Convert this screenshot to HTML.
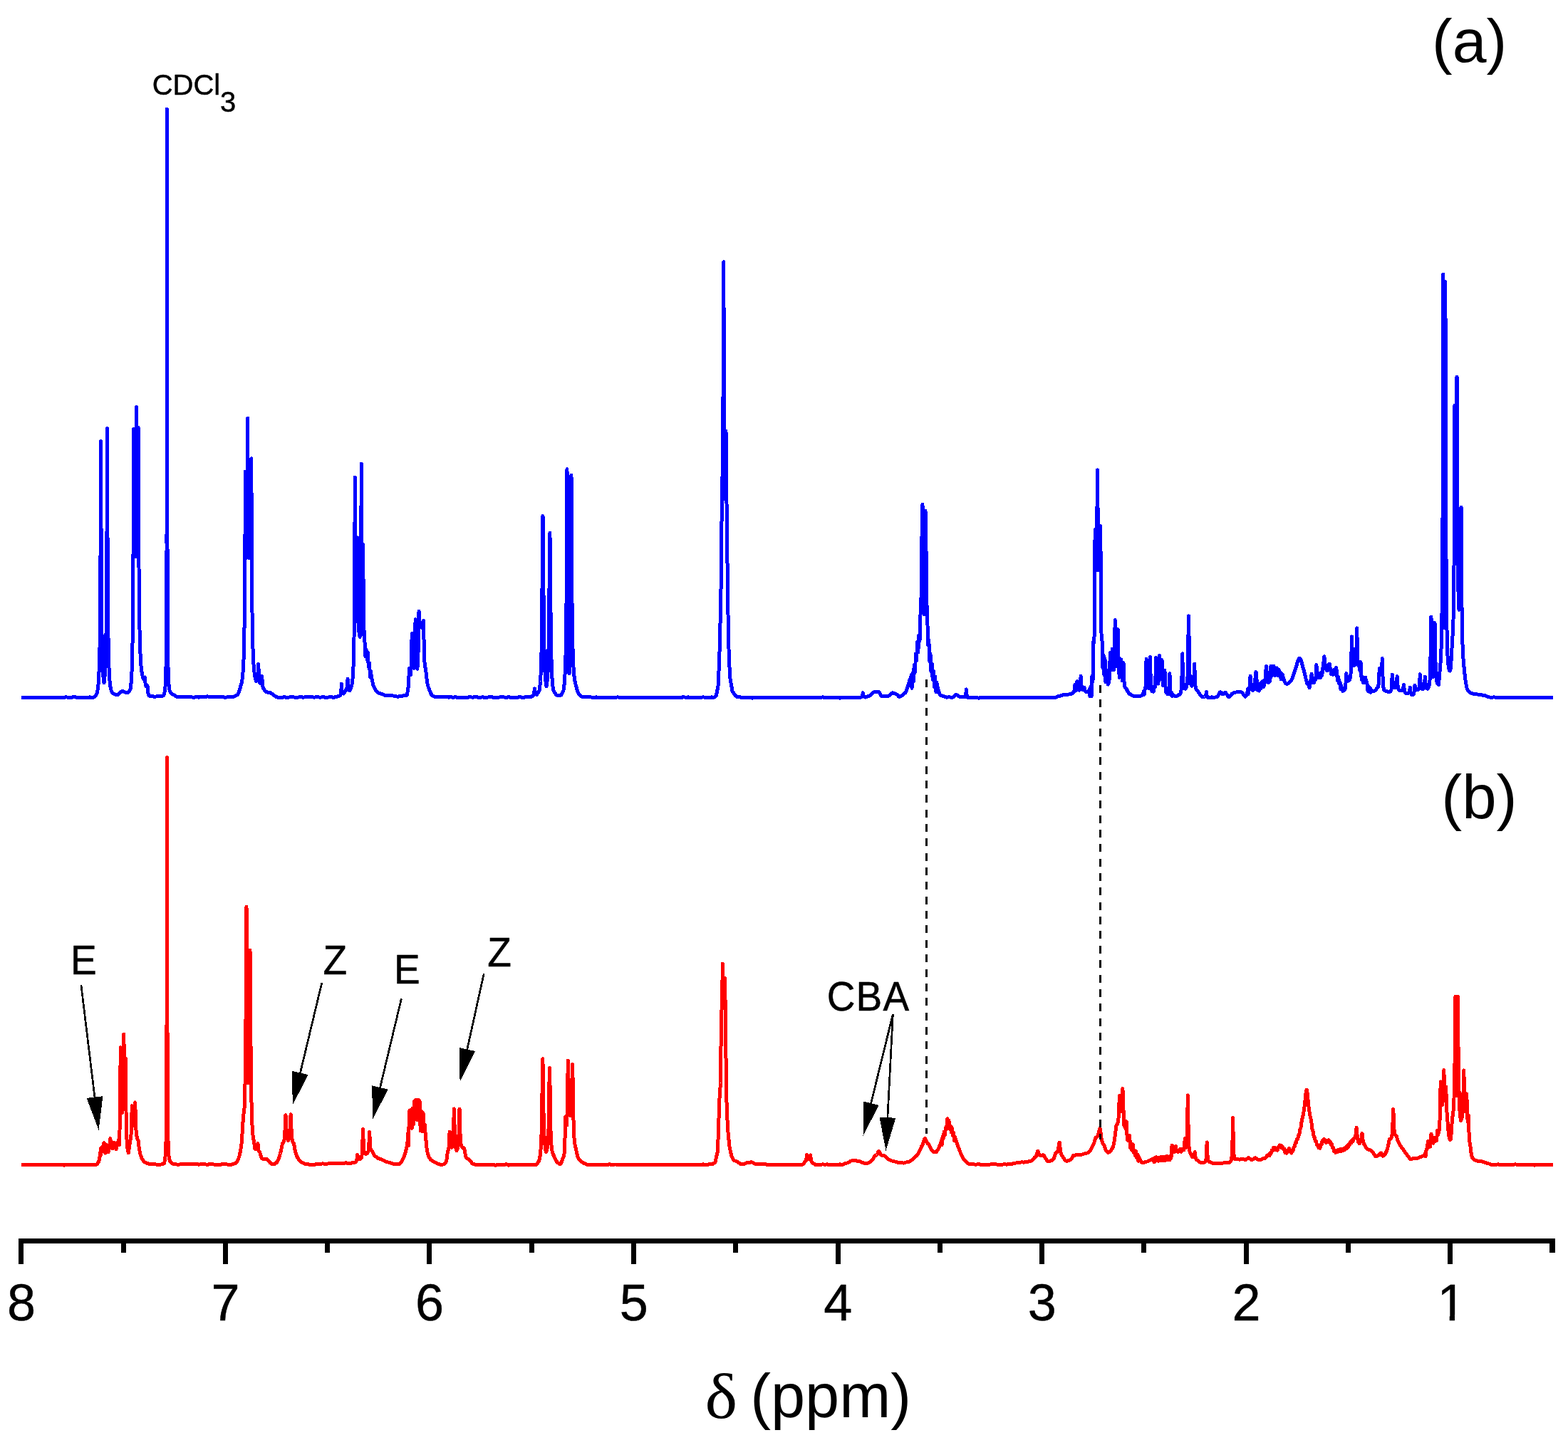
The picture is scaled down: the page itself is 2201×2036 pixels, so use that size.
<!DOCTYPE html>
<html lang="en"><head><meta charset="utf-8"><title>1H NMR spectra</title>
<style>html,body{margin:0;padding:0;background:#fff}body{width:2201px;height:2036px;overflow:hidden}svg{display:block}text{font-family:"Liberation Sans",Arial,sans-serif;fill:#000}.ser{font-family:"Liberation Serif","DejaVu Serif",serif}</style></head><body>
<svg width="2201" height="2036" viewBox="0 0 2201 2036">
<rect width="2201" height="2036" fill="#fff"/>
<defs><polyline id="specA" points="30,979.5 86,979.2 86.2,979.4 87,979.5 90,979.4 93,978.7 96,979.5 99,979.3 105,978.6 108,979.6 111,979.1 117,979.5 120,979.3 123,979.5 126,978.9 129,979.4 132,978.9 133.2,978.1 134.2,977.1 135,975.9 136,973.3 136.8,970.4 137.5,965.9 138,961.5 138.5,955.1 139.2,939.6 140,909.3 140.5,870.6 140.8,839.2 141.6,619.7 142.2,798.5 142.5,841.1 143,889.8 143.5,916.5 144.2,938.7 145,950.4 145.5,955.3 146,958.9 146.8,953.2 147.2,947.5 148,933.8 148.8,907.3 149.2,874.1 149.8,810.5 150.5,601.5 151.2,813.2 151.8,877.8 152.2,911.4 152.8,931.4 153.2,944.1 154,955.8 154.5,960.7 155,964.3 155.5,967 156.2,969.8 157,971.7 158,973.4 160.8,974.9 162,975.3 162.8,975.4 165,975.4 165.8,975.2 167,974.3 170,971.5 170.8,971 171.8,970.6 172.8,970.7 173.8,971 177,972.8 177.8,972.9 178.5,972.8 179.5,972.2 180.8,971 181.8,969.8 183,968 183.8,962.5 184.2,957 185,943.9 185.8,919 186.2,888.7 186.8,832.7 187,782.6 187.6,602.7 188.2,710.7 188.5,736.5 189,765.9 189.5,782 190,763 190.5,728.4 190.8,698.2 191.4,571.4 192,701.9 192.2,738.2 192.8,781.5 193.2,740.8 194.1,600.3 194.2,616.5 195,796.9 195.5,852.4 196,884.1 196.5,904.5 197.2,923.5 197.8,931.7 198.2,937.6 198.8,942 199.5,946.8 200.2,950.1 201,952.5 201.5,953.7 202,953.4 202.5,952.8 203.3,951 203.5,952.3 204,958.9 204.2,961 204.8,963.2 205,963.7 205.2,963.7 206,963.4 207,962.6 208,973.3 208.5,975.4 208.8,976 209.2,976.7 209.8,977.1 210.2,977.3 211.2,977.3 213,977.1 216,978.1 219,978 225,977.5 226,977.6 227.2,977.6 228,977.4 229,977 230,975.4 230.8,973.3 231.5,969.2 232,964.4 232.5,955.9 232.8,949.1 233.2,923.9 233.8,855.6 234,772.6 234.2,578.8 234.5,153 234.8,577.4 235,770.7 235.2,853.4 235.5,896.6 236,936.6 236.2,946.5 236.8,958.1 237.2,964.2 237.8,967.7 238.2,969.9 238.8,971.4 239.2,972.4 239.8,973.2 240.5,973.9 241,974.3 243,975.2 247,977.7 248.5,978.5 249.5,978.8 252,978.9 255,978 258,978.6 261,978 264,978.8 267,978.3 270,979 273,979.1 276,978.5 279,979.1 282,978.3 285,978 288,978.6 291,977.9 300,978.6 303,978.1 306,978 309,978.9 312,978.3 315,979.1 318,979 321,978.4 325.5,978.5 327.5,978.2 329.5,977.6 331.2,976.7 333.2,975.4 334,974.4 335,972.4 336.2,969 339,959.4 339.8,955.7 340.2,952.2 340.8,947.5 341.2,941.1 342,926.2 342.8,899.1 343.2,867.5 343.5,843.4 344.5,662.1 345.5,760.7 346,783.5 346.2,773.7 346.8,742.7 347,716 347.7,587.2 348.2,683.8 348.8,736.3 349.2,761.2 349.8,775.5 350.2,783.7 351,768.2 351.5,750.4 352,717.2 352.5,656.3 352.7,643.7 352.8,645.4 353.5,804 354,860.2 354.8,902.1 355.2,918.1 356,933.1 356.8,942.2 357.5,948.1 358.5,953.3 359.5,956.6 360,956.3 360.8,954.9 361.2,952.9 361.5,951 361.8,948.2 362.6,932.2 362.8,933.6 363.5,951.3 363.8,954.2 364.2,957.4 364.5,958.2 365,959.3 365.8,958.8 366.2,957.9 366.8,955.9 367.6,949.2 367.8,950.2 368.5,961.7 369,964.8 369.5,966.3 371,968.5 372.2,970.1 373.8,971.4 375,972 378,972.1 379,972.5 382,974.2 384,975.9 385.8,977.1 387,977.8 388,978.5 388.8,978.9 390,979.2 393,979 396,979.2 399,978.8 402,979.2 405,979.3 408,978.4 411,978.5 414,979.2 417,979.6 420,978.7 426,979.1 429,978.8 435,978.8 438,978.8 441,979.1 444,978.8 447,978.9 450,979.3 453,978.4 456,979.1 459,979.3 462,978.8 465,978.7 468,979.4 472,978.4 474,977.8 476.5,977.2 477.2,976.9 477.8,976.3 478.2,974.9 478.5,973.5 478.8,971 479.4,960.2 480,968.8 480.5,972.3 480.8,973 481.2,973.8 481.8,974 482.5,974.1 485,969.2 485.5,969 486,968.5 486.5,967.6 486.8,966.8 487.2,963.8 488.1,953.1 488.2,954 488.8,961.6 489.2,966 489.5,967.2 490,968.5 490.5,969.3 491,969.7 492,967.2 494,961.4 494.8,956 495.2,950.6 495.8,942.7 496.5,921.9 497,896.3 497.5,848.1 498.3,670.3 499,801.8 499.5,847.2 500,870.4 500.5,855.2 500.8,842.2 501.5,754.9 502,823.6 502.5,859.1 503,874.8 503.5,883.3 504.2,890 504.8,892.6 505.3,894.5 506,863.7 506.5,818.3 507.3,651 508,818.7 508.2,853.4 508.7,890.8 509,870.2 509.2,840.4 509.7,764.5 510.2,842.1 510.8,875.7 511,884.5 511.5,895.6 512,901.9 512.8,907 513,922.1 514,912.2 514.2,913.3 515,923.8 515.2,926 516,917 516.2,915.7 517.2,934.4 517.5,936.8 518.5,930.8 519.5,949.9 519.7,951.1 520,949.2 520.2,941.8 522.5,955.8 523.5,960.5 524.2,963.1 526.2,967 528,969.8 529.5,971.6 531,972.9 532.5,973.6 534,973.9 537,974.9 540,976.2 543,976.4 546,977 549,976.9 552,977 555,977.5 558,978.3 561,977.7 563,977.5 568,976.6 571,976.4 571.2,976.1 571.5,975.3 572,972.4 572.6,967.4 573,965.6 573.2,963.9 573.5,961.2 574.5,938.5 574.8,939.8 575.2,944.2 575.5,945.6 576,947 576.3,947.4 576.8,942.6 577.2,932.4 578,898.2 578.3,889.6 578.5,892.9 579.2,921.5 579.8,931 580.2,935.6 580.8,938.2 581.2,935 581.8,928.4 582.2,914.9 583,874.4 583.2,869.8 583.5,879.6 584,908.8 584.5,925.8 585,934.1 585.5,938.2 585.7,939.3 585.8,938.9 586.2,934.3 586.5,930.6 587,917.8 588,859.4 588.1,858 588.2,858.8 588.8,868 589.2,874.7 589.8,877.9 590.2,879.6 590.8,880.5 591.3,881 592.2,880.2 592.8,879.5 593.2,878 593.5,876.8 594.2,871.4 594.4,871.1 594.8,883.2 595.2,910.3 595.5,919.2 596,929.6 596.2,932.6 596.8,936.4 597,937.6 597.5,939.3 598.8,951.5 599.8,958.9 600.5,962.5 601.8,966.4 603,969.2 605,974.2 605.8,975.5 606.8,976.4 609,977.8 610.2,978.3 612.2,978.8 614.2,979 618,978.7 621,978.8 627,978.5 630,979.1 633,978.7 636,979.4 639,978.5 642,979.5 645,979.2 648,979.5 654,979.5 657,979.1 660,978.4 663,979.3 666,978.6 669,978.8 672,979.2 678,978.9 681,979.5 687,978.8 690,978.7 693,979.4 696,979 699,979.3 702,978.8 705,978.6 711,979.4 714,978.6 717,979.4 720,979.5 723,979.4 726,979.4 729,978.4 732,979.2 735,979.4 738,978.5 741,978.7 744,978.7 745,978.8 745.8,978.6 747,977.5 748.2,977 749,976.1 749.5,974.5 749.8,973.1 750.2,968.2 750.5,966.8 750.8,968 751.2,972 751.8,973.9 752,974.4 752.5,975 753.5,975.5 756,971.5 757,969.5 757.2,968.1 758,962.3 758.5,956.5 759,948.2 759.5,936 760,916.6 760.5,884.8 761.8,735.7 762,724.5 762.2,735.5 763.2,858.9 763.8,898.8 764.2,923 764.8,938.1 765.2,947.8 766,956.8 766.5,960.8 767,963.6 767.5,960.9 768,957.1 768.5,951.8 769,944 769.8,923.8 770.5,882.2 771.5,772 771.8,751.9 771.9,748.3 772.2,767.5 773,857.9 773.5,900.5 774.2,935.5 774.8,948.1 775.2,956.3 776,964.1 776.8,968.8 777,969.9 778.8,972.9 780.8,975.5 781.2,976 781.8,976.3 783,976.5 787,976.3 787.5,976.1 788,975.7 788.5,975 789.2,973.5 791,969.3 792,961.7 792.8,952.3 793.2,942.8 794,919.7 794.5,893.8 795,849.7 796,658.7 796.2,695.3 796.8,812.5 797.2,873.4 798,917.9 798.5,934.6 799,946 799.5,934.9 800,918.6 800.8,875.4 801.2,816.4 801.8,702.8 802,667.3 803,845.1 803.5,886.2 804.2,919 804.8,931.9 805.2,940.9 805.8,947.3 806.5,953.8 807.5,959.2 809.5,966.6 811,971.4 812,973.4 813.5,975.3 815.5,977.3 816.5,978 818,978.6 819.5,978.8 822,978.5 825,978.6 834,979.4 837,978.9 840,979.4 846,979 849,979 855,979.4 858,979.1 861,979.4 867,978.9 871.8,979.3 872,979.2 958,979.3 958.2,978.8 960,978.7 963,979.7 966,978.8 969,979.7 972,979.5 978,979.8 981,979.4 984,979.7 987,978.7 990,979.6 993,979.3 996,979.6 999,978.8 1000.5,979.2 1002,979.2 1003,978.9 1003.8,978.4 1005,977.2 1005.5,976.3 1008.3,961.5 1010.4,904.7 1012.2,817.9 1013.3,702 1014.2,660.1 1015.3,521.2 1015.8,367.8 1016.3,521.3 1017.2,700.3 1019,605.4 1020.4,746.7 1022.5,898.6 1024.5,949.7 1028,970.5 1029.8,973.4 1031.5,976 1032.5,977.1 1033.8,978 1034.8,978.3 1041,979.2 1047,979.4 1050,979 1056,980.1 1059,979.4 1062,979.8 1065,979.1 1068,979.7 1071,979.8 1080,979.5 1086,980 1089,979.1 1092,979 1095,979.8 1098,980 1101,979.5 1104,979.4 1107,979.8 1110,979.1 1113,979.2 1116,979.1 1119,979.6 1122,979.3 1125,979.2 1128,979.7 1131,980 1134,979.3 1137,979.7 1140,979.4 1143,979.9 1149,979.2 1152,979.2 1155,978.9 1158,979.5 1164,979.1 1167,979.3 1170,979.3 1173,979.8 1176,979.1 1179,980.1 1182,979.5 1185,979.6 1188,979.5 1191,979.9 1194,979.9 1197,979.6 1200,979.5 1203,979.8 1206,979.9 1208.5,979.2 1209.5,978.7 1210,978.2 1210.5,976.8 1211.3,972.7 1211.5,973.3 1212,976.2 1212.5,977.7 1213,978.4 1213.5,978.8 1214,979 1215,979 1216.8,978.4 1222.2,976.1 1223.2,975.2 1226,972.3 1227.2,971.5 1228,971.2 1230,971.2 1233,971.6 1233.5,971.7 1234,972.2 1234.5,972.9 1236.5,976.4 1237.2,977.2 1237.8,977.4 1239,977.2 1242,977.1 1245,977.2 1247.2,977.1 1247.8,976.9 1248.8,976.3 1251.8,973.4 1252.5,972.9 1253,972.9 1254.8,973.3 1257,974.4 1258.2,974.8 1259,975.3 1260,976.2 1260.8,977.2 1261.5,978 1262,978.2 1263,978.3 1265,977.2 1267.8,975.3 1270,973.5 1270.8,972.7 1271.5,971.4 1272,970.4 1272.8,968.3 1276.8,955.4 1279.8,947.1 1280,966.4 1281,945.1 1281.2,945.1 1282,955.6 1282.2,957.3 1283.2,934.2 1283.5,935.6 1284.2,944.5 1284.5,943.7 1285.5,918 1286.5,927.7 1286.8,924.5 1287.5,904 1287.8,900.7 1288.8,915.7 1289,911.9 1289.8,894.3 1290,891.7 1290.5,896.6 1291,900.1 1292,863.7 1292.8,848.7 1293.2,830 1293.8,775.8 1294.2,736.3 1294.5,720 1294.8,710.1 1294.9,708.4 1295,709.3 1295.2,719.3 1296.5,830 1297,863 1297.5,828.6 1298.5,738.2 1298.8,722.9 1299,717.3 1299.2,722 1299.8,752.7 1300.2,792.2 1300.5,829.9 1301,849.5 1301.5,860.7 1302.8,905.9 1303.2,903 1303.8,899 1304.8,925.5 1305,928.8 1306,918.4 1307,942.6 1307.2,943 1308,933.2 1308.2,931.7 1309.2,954.5 1309.5,952.9 1310.2,942.5 1310.5,942.6 1311.5,964.4 1312.5,949.7 1312.8,951.5 1313.8,971.7 1314.8,958.1 1315,962.2 1315.2,960 1316,964.1 1316.8,967.5 1318.5,973 1319.2,974.8 1319.8,975.7 1320,976.1 1320.5,976.5 1323,977.2 1327,978.6 1329,979.2 1332,978.5 1335,979.3 1338,979 1338.5,978.7 1339.2,978 1341,975.9 1341.8,975.6 1342.2,975.5 1343,975.7 1344,976.4 1346.2,977.7 1347.8,978.4 1350,978.8 1353,978.8 1354,978.6 1354.5,978.3 1355,977.6 1355.5,976.1 1355.8,974.6 1356.4,968 1357.2,976.7 1357.5,977.8 1358,978.9 1358.5,979.4 1359,979.7 1362,979.7 1365,979.9 1368,979.2 1371,979.8 1374,980.1 1377,979.7 1380,979.5 1383,979 1386,979.5 1389,979.3 1392,979.8 1398,979.6 1401,979.1 1404,979.7 1407,979.7 1410,979.1 1413,980 1416,979.7 1419,979 1422,980 1425,979.1 1428,979.3 1431,979.8 1437,979.6 1440,979.7 1452,979 1455,979.8 1458,979.8 1461,979.6 1464,979.8 1467,979.3 1470,979.2 1473,979.4 1476,979.9 1479,979 1480.5,979.2 1482,979.3 1485,977.9 1488,977.4 1489.5,976.7 1491,976.1 1494,975.7 1499.5,975.1 1503,974.5 1506.5,972.8 1507,972.4 1507.2,972 1507.8,970.5 1508,969 1508.8,961.4 1509,962.4 1509.5,967.2 1509.8,968.7 1510,969.6 1510.2,969 1510.8,966.7 1511.5,958 1511.7,956.7 1512,958.9 1512.5,964.5 1512.8,966.1 1513,967.2 1513.5,968.3 1514,968.9 1514.5,969.2 1515,968.7 1515.5,967.7 1516,965.6 1516.5,960.7 1517,951.3 1517.2,949.5 1518,961.9 1518.2,964.4 1518.8,967 1519.2,968.2 1520,969 1520.8,968.5 1521.2,967.6 1521.8,965.8 1522,965.3 1522.2,966.2 1522.8,969 1523,969.9 1523.5,970.9 1524,971.4 1524.2,971.5 1525.2,971.7 1526.2,971.8 1527,971.5 1528,970.5 1529,968.8 1529.8,967.3 1530,978.1 1531,964.1 1532,978.1 1532.5,967.6 1533,949.5 1533.5,954.2 1534,957 1535,900.3 1535.2,902.2 1535.5,902.7 1535.8,901.3 1536,897.2 1536.2,851.4 1537,758.1 1537.2,743.6 1538,782.2 1538.2,790.1 1538.8,800.8 1539,794 1539.5,768.8 1539.8,748.3 1540.2,681 1540.5,659.9 1540.8,679.6 1541.2,742.3 1541.5,761.5 1542,785 1542.6,800.9 1543.2,782 1544,747.6 1544.2,739.8 1544.4,738.3 1544.5,739.7 1544.8,754.2 1545.8,848.7 1546,889.2 1546.2,895.1 1546.5,898.3 1546.8,899.4 1547,899 1548,938 1549,919.6 1550,948.1 1551,925.1 1552,958.1 1553,941.2 1555.5,961.1 1556,960.1 1556.5,958.3 1557,954.9 1557.2,951.8 1557.8,939.8 1558.2,918.7 1558.4,916.3 1559.2,934.3 1559.5,937.5 1560,940.8 1560.5,934.9 1561.2,912.9 1561.4,911.1 1562.2,931.9 1562.8,937.8 1563,939.4 1563.4,940.8 1563.8,936.1 1564.2,923.4 1565,881.1 1565.3,870.5 1565.5,875.1 1566.2,915.1 1566.8,928.4 1567.3,935.4 1567.8,930.5 1568.2,919.8 1569,887.5 1569.2,883.8 1569.5,893.5 1570.2,932.2 1570.8,943.7 1571,947.1 1571.5,951.3 1572,949.9 1572.5,946.5 1572.8,943.4 1573.6,925.9 1573.8,927.6 1574.5,948.3 1574.8,951.7 1575.3,955.7 1575.8,953.3 1576,950.9 1577,930.6 1577.2,935.4 1577.8,951.9 1578,956.8 1578.5,961.9 1579,964.3 1579.5,965.5 1580.2,966.4 1581,966.9 1583.2,971.4 1584,972.7 1584.5,973.4 1585.8,974.5 1587,975 1589.8,976.7 1591.2,977.2 1593.2,977.6 1596,977.6 1599,977.8 1602,976.9 1603.2,976.4 1603.8,975.7 1604.2,974.5 1605.8,970.2 1606,975.5 1607,968.1 1607.2,967.4 1607.5,967.3 1607.8,966.5 1608,964.5 1608.2,960.1 1609.1,925.4 1609.2,926.6 1609.8,947.5 1610.2,961 1610.5,963.9 1610.8,964.3 1611,964.1 1611.5,963 1611.8,964.6 1612.2,966.1 1612.5,966.5 1612.8,964.8 1613.2,957 1614.2,924 1614.4,922.5 1615,946.2 1615.5,957.3 1617,971 1618,966.6 1618.2,967 1619,970.7 1619.2,971.3 1620.2,964.3 1620.5,964.5 1620.8,965 1621,965.2 1621.2,964.9 1621.5,962.5 1622,949.2 1622.5,926.2 1622.7,923.4 1623.5,950 1623.8,954.2 1624,955.6 1624.2,956.1 1624.5,956 1624.8,956.1 1625,958.1 1625.5,959.6 1625.8,960 1626,957.8 1626.5,950.2 1627.5,921.1 1627.6,920.7 1628.2,941.1 1628.5,945.9 1628.8,948.5 1629,949.6 1629.3,952.1 1629.5,952.3 1629.8,952.1 1630,950.9 1630.2,947.8 1631,926.7 1631.2,930.2 1632,955.5 1632.2,960 1632.5,962.4 1632.8,962.4 1633,962 1633.5,957.1 1633.8,956.4 1634,954.7 1634.8,941.4 1635,943.2 1635.5,955.8 1636,964.3 1636.8,972.6 1637,972.4 1637.8,969.4 1638,969.3 1639,974.9 1640,967.8 1640.2,967.2 1640.5,967.2 1640.8,966.5 1641,964.6 1641.2,960.3 1641.8,945.7 1642,947.3 1642.8,966.8 1643.2,974.2 1643.5,975.7 1644,974.4 1644.5,972.6 1645.5,977.8 1645.8,977.7 1646,977 1646.2,975 1647,975.9 1648.2,977 1649.2,977.5 1650,977.7 1651.5,977.4 1652.8,977 1654,976.3 1655,975.5 1656,974.9 1656.8,974.1 1657.5,972.2 1658,969.4 1658.5,963.6 1659,949.7 1659.5,922.9 1659.7,917.7 1660.5,948.7 1661,958.8 1661.5,963.2 1662,965.3 1662.5,966.3 1663.2,967 1664,967.3 1664.8,966 1665.5,964.1 1666,961.9 1666.2,960.3 1666.8,955 1667,950.6 1667.5,934.6 1668.2,876.3 1668.5,864.8 1668.8,875.8 1669.5,931.8 1670,947.3 1670.5,954.6 1671,958.3 1671.8,961.2 1672.2,962.2 1673,963.1 1673.5,962.6 1674.2,961.7 1674.8,960.7 1675,959.8 1675.5,956.7 1675.8,953.8 1676.5,934.7 1676.7,932 1677.5,955.1 1678,962.7 1678.5,965.9 1679,967.5 1679.5,968.3 1680,968.8 1680.5,969.1 1682.2,972 1685.2,976.1 1686.8,977.8 1688,978.9 1689,979 1690.5,978.5 1691.5,978 1692.2,977.2 1692.8,975.8 1693.4,971.6 1694,976.4 1694.5,978.5 1695,979.3 1695.5,979.6 1696.2,979.8 1698,979.7 1701,978.9 1704,979.5 1707,978.8 1708.2,978.7 1708.8,978.3 1709.5,977.3 1711.2,973.8 1712,972.5 1712.5,972 1713,971.8 1713.8,972.1 1715.5,974.2 1716,974.6 1716.2,974.7 1716.8,974.6 1717.2,974.4 1719,972.7 1719.8,972.5 1720.2,972.6 1720.8,973 1721.2,973.7 1723.8,978 1724.5,978.8 1725,979 1725.5,978.9 1726.2,978.3 1727,977.4 1729.2,974.3 1729.8,973.8 1731,973 1736.5,971.6 1738.8,971.3 1740.5,971.4 1743,972 1743.5,972.2 1744.5,973.5 1746.8,977.2 1747.5,977.9 1748,978.1 1748.2,978 1748.5,977.9 1749,977.2 1749.8,975.3 1750.8,971.7 1751.8,967.2 1752,975 1753,965.6 1753.2,965.4 1753.8,967.2 1754,967.3 1754.2,965.7 1755,950 1755.2,949.3 1756,962.5 1756.2,966 1756.5,967.4 1757.5,961.1 1758.5,969.6 1758.8,969 1759.5,962.4 1759.8,961 1760.8,967.7 1761,965.7 1762,952.4 1762.2,950.5 1762.8,944 1763,943.5 1763.2,944.1 1764.8,963.9 1765.2,968.9 1766.2,962.3 1767.2,969.9 1767.5,970 1768.5,960.5 1769.5,967.3 1769.8,966.5 1770.5,959.5 1770.8,957.9 1771.8,965 1772.8,957.1 1773,956.6 1774,964.4 1775,955 1775.2,954.9 1776,958.2 1776.2,957.7 1777.2,936.7 1777.5,935.5 1777.8,937.7 1778.5,950.4 1778.8,950.6 1779,950.3 1779.5,948.4 1780.5,958.5 1780.8,958.3 1781.8,950.5 1782.8,956.5 1783.2,949.5 1783.8,937.7 1784,935.1 1785,948.8 1786,942 1786.2,942.2 1787,946.9 1787.2,947 1788,936.2 1788.2,935.2 1789.2,947.7 1789.5,948.5 1790.5,940.2 1791,943.1 1791.2,944.1 1791.5,944.5 1792,939.1 1792.2,938.1 1792.5,938 1792.8,938.4 1793.8,949 1794,948 1794.8,941.1 1795,940.1 1795.2,941.3 1795.8,942.3 1796,943.5 1796.2,943 1796.5,943.8 1796.8,944.1 1797,943.6 1797.2,945 1798,952.5 1798.2,954 1799.2,946.3 1799.5,947.6 1800,951.8 1800.2,947 1801.5,951.7 1802.5,954.9 1803.5,957.4 1804.2,958.9 1805,959.8 1805.5,960.2 1806.5,960.2 1807.5,959.9 1809.5,958.7 1811,957.4 1812,956.5 1812.8,955.2 1813.8,952.8 1816.8,944.1 1818.5,939.3 1821,930.9 1822,927.9 1822.8,926 1823.2,925.1 1823.8,924.5 1824.4,924.1 1825,924.5 1825.5,925.2 1826.2,927 1827,929.3 1829.2,938 1830.8,943.4 1833.8,956.4 1834.8,959.6 1835.5,961 1836,961.3 1836.2,961.2 1836.8,960.9 1837.2,960.3 1837.8,959.4 1838,965.8 1839,956.4 1839.2,956.4 1839.8,958.5 1840,959.1 1840.2,958.5 1841,947 1841.2,946.4 1842,954.9 1842.2,957.2 1842.5,958 1843.5,952.5 1844.5,958.9 1844.8,958.5 1845.8,951.7 1846.2,953.7 1846.5,954.2 1846.8,954.2 1847,950.8 1847.8,933.6 1848,934.7 1848.5,943.7 1849,950 1849.5,948.1 1850,945.5 1850.2,946 1851,951.1 1851.2,952 1852.2,945.6 1852.5,946.5 1853.2,951 1853.5,951.2 1854.5,944.1 1855.5,948.8 1855.8,947.8 1856.8,937.5 1857,937.1 1857.2,936.3 1857.8,933.4 1858.2,925.2 1858.5,922.7 1858.8,921.8 1859,923 1860,937 1860.5,935.9 1861,934 1861.2,934.8 1862,940.4 1862.2,941.5 1863.2,935.5 1863.5,936.4 1864.2,940.9 1864.5,941.1 1865.5,932.4 1865.8,932.5 1866,932.1 1866.2,932.2 1866.3,932.5 1866.8,937.9 1867,939.2 1867.2,939.6 1867.8,939.1 1868.8,946.9 1869,946.1 1869.8,941.5 1870,941.2 1871,947.3 1872,940.7 1872.2,941.1 1873,945.9 1873.2,946.9 1874.2,939.8 1874.8,940.8 1875,940.9 1875.2,940.2 1875.6,937.6 1875.8,937.6 1877.5,955.8 1877.8,955.9 1878.5,951.7 1878.8,950.9 1879.8,959.8 1880,959.7 1880.8,957.4 1881,957.9 1882,967.8 1882.2,961.7 1884.8,970.4 1885.8,970 1886.8,969.4 1887.5,968.6 1888,967.5 1888.5,965 1889,959.1 1889.5,947.8 1889.7,945.6 1890.5,952.4 1890.8,953.7 1891.2,955.1 1891.8,955.7 1892.5,956.1 1893.2,955.6 1894,954.9 1894.8,953.6 1895.2,952 1895.5,950.8 1896,946.8 1896.5,938 1897.5,893.7 1897.8,899.1 1898.2,917.7 1898.5,923.2 1899,929 1899.2,930.7 1899.8,932.7 1900.2,933.8 1900.8,934.6 1901.5,934.1 1902,933.4 1902.5,932 1902.8,930.9 1903.2,927.1 1903.8,918.9 1904.5,886.6 1904.7,881.9 1905.5,916 1906,927.2 1906.5,932.1 1907,934.5 1907.5,935.9 1908,935.8 1908.5,935.3 1908.8,934.9 1909,942.2 1910,929.7 1910.2,933 1910.8,946.6 1911.2,954.4 1911.8,953 1912.2,950.5 1913.2,958.1 1913.5,958.6 1914.5,951.5 1915.5,958.5 1915.8,958.1 1916.5,952.4 1916.8,951.3 1917.8,958.7 1918,957.6 1918.2,957.4 1919,960.5 1920,970.2 1921,963.6 1921.2,964 1922.2,971.3 1923.2,966.1 1924,972.3 1924.2,967.7 1925.2,969.3 1926.2,970.3 1927,970.7 1927.5,970.8 1928.8,970.5 1930,969.9 1931,969 1932,967.8 1933,966.2 1933.8,965.5 1934.2,964.6 1934.8,963.1 1935,961.8 1935.5,957.2 1936.2,939.8 1936.4,938.3 1937.2,943.8 1937.5,944.8 1937.8,945.4 1938.3,946.2 1938.8,944.9 1939.2,941.9 1939.5,939 1940.3,924.5 1940.5,928.6 1941,950 1941.5,961.1 1941.8,963.9 1942.2,967 1942.8,968.6 1943.2,969.4 1943.5,969.7 1944,969.9 1947,970.8 1949,971.9 1950.2,971.7 1951,971.4 1951.8,970.9 1952.2,970.2 1952.8,969 1953,967.9 1953.5,963.7 1954.2,948.3 1954.4,947.1 1955.2,959.4 1955.5,961.6 1956,963.9 1956.2,964.5 1956.8,965.2 1957.2,965.6 1958,965.9 1959,965.2 1959.5,964.4 1959.8,963.7 1960.2,961.2 1961,951.2 1961.2,949.8 1962,961.5 1962.2,964 1962.8,966.6 1963.2,967.8 1963.8,968.5 1964.2,969 1965,969.5 1966,969.8 1967.8,969.7 1968,969.6 1968.5,969.2 1969,968.6 1969.5,967.3 1970.5,961.3 1970.8,962.8 1971.2,968.2 1971.5,969.9 1972,971.8 1972.8,973 1974,973.9 1975,973.9 1976.5,973.3 1977.2,972.9 1977.8,972.5 1978.2,971.4 1978.5,970.4 1979.3,965.2 1979.5,966.2 1980,971.2 1980.5,973.8 1981,974.9 1981.5,975.5 1982.5,976 1983,975.8 1983.5,975.6 1984,975.1 1984.5,974.2 1984.8,973.4 1985.2,970.3 1985.8,963.9 1986,962 1986.2,963 1986.8,966.5 1987,967.5 1987.5,968.5 1987.8,968.7 1988.2,968.9 1989,968.8 1989.5,969 1989.8,968.9 1990.8,968.4 1991.2,967.7 1991.5,967.2 1992,965.3 1992.5,960.7 1993.3,946.7 1993.5,948.6 1994.2,961.3 1994.8,964.6 1995.2,966.1 1995.8,966.9 1996.8,967.7 1997,967.9 1997.2,967.8 1998,967.3 1998.8,965.7 1999.2,963.3 1999.5,961.1 2000.3,950 2000.5,951.5 2001.2,961.9 2001.5,963.5 2002,965.3 2002.8,966.5 2003.2,966.9 2004,967.2 2004.8,966.4 2005.2,965.5 2006,963.2 2006.5,960.4 2007,955.4 2007.5,945.7 2007.8,937.5 2008.2,908.7 2008.8,869.6 2008.9,865.9 2009,867.3 2010,927.2 2010.5,940.5 2011,947.1 2011.5,950.8 2011.8,949.2 2012.2,944.4 2012.8,934.9 2013.2,914.8 2013.8,882.4 2014,874.5 2014.2,882.8 2015,929.5 2015.2,938.1 2015.8,948.2 2016.2,953.4 2017,957.4 2017.5,958.9 2018,959.9 2018.8,960.9 2019.5,961.6 2022,931.1 2022.8,917.7 2023.5,894.2 2024.2,848.6 2024.8,790.9 2025.2,675.5 2025.9,385.2 2026.8,769.7 2027.4,881.7 2028,784.8 2028.2,709.8 2028.9,395.7 2029.5,665 2029.8,740.1 2030.2,823.9 2031,884.6 2031.8,914.4 2032,920.8 2032.8,931 2033.2,935.7 2034,940 2034.2,940.8 2034.8,941.8 2035.2,942.1 2035.5,942 2035.8,941.4 2036,940.1 2036.5,935.8 2037.2,925.4 2038.5,900.8 2039.2,890.1 2040,870 2040.8,827.9 2041.2,767.4 2042,569.6 2042.8,663.2 2043,680.2 2043.5,700.3 2044,674 2044.2,651.8 2045,529.4 2045.5,672 2046,764.7 2046.5,807.5 2047.2,840 2048,856.2 2048.8,846.7 2049.5,829.1 2050,807.2 2050.2,789.3 2050.8,730.4 2051,712 2052,853.1 2052.5,885.6 2053,904.8 2053.8,921.7 2054.5,931.4 2056.2,948.6 2057,954.7 2058.2,962.2 2059.2,966.8 2059.8,968.2 2060,968.6 2062.2,971.2 2064,972.8 2065.5,973.5 2070,974.8 2073,974.8 2076,975.3 2079,975.3 2082,976.6 2085,976.7 2087.8,978 2089,978.4 2091,979 2092.8,979.1 2094,979.3 2097,978.9 2100,979.2 2103,979.9 2106,979.7 2109,980 2112,979.9 2115,979.4 2118,980 2121,979.8 2124,979.3 2127,979.3 2130,979 2133,979.4 2136,980 2139,979 2142,979.6 2145,979 2148,979 2151,979.7 2154,979.2 2157,979 2160,979.1 2163,979.7 2164.8,979.6 2165,979.5 2180,979.5"/><polyline id="specB" points="30,1635.5 86,1635.5 87,1635.4 90,1636.1 93,1635 96,1635.9 99,1635.2 102,1635.1 105,1635 108,1635.3 111,1635.9 114,1635.1 117,1635.6 120,1635.7 123,1635.3 126,1635.6 129,1635 132,1635 135.5,1635.1 136.2,1634.7 137.2,1633.5 138,1632.1 139,1629.6 139.8,1626.1 140.8,1618.2 141,1622.8 141.5,1614.9 142,1611.6 142.2,1611.9 143,1616.5 143.2,1617.3 144.2,1610.3 145,1612.8 145.2,1613.1 145.5,1611.5 146,1604.7 146.2,1604.8 146.5,1606.4 147.2,1616.6 147.5,1618.8 147.8,1619 148.8,1612.2 149,1612.7 149.2,1612.7 149.8,1610.7 150,1608.2 150.2,1607.8 150.5,1608.5 150.8,1608.8 151,1609.8 152,1618 153,1610.1 153.2,1609.6 153.5,1610 153.8,1609.7 154,1608.3 154.5,1600.1 154.6,1599 154.8,1598.7 155.2,1601.1 156,1609.3 156.2,1611.4 156.5,1612 157.5,1606.3 158.5,1612.4 158.8,1611.9 159.8,1604.5 160,1605 160.2,1605.1 160.5,1604.6 160.8,1604.8 160.8,1605 161,1604.5 161.5,1605.7 161.8,1605.4 162,1606 163,1613.9 164,1606 164.2,1605.2 164.5,1605.2 164.8,1604.8 165,1605.3 165.2,1606.5 166.2,1601.1 166.5,1602.1 167.2,1607 167.5,1607.3 168,1587.4 168.5,1554.3 169.2,1476.2 169.4,1470.7 169.5,1472.4 170.5,1537.6 171,1553.8 171.5,1562.9 172,1553.1 172.5,1536.1 173,1505 173.5,1459.6 173.7,1452 174,1464.3 174.5,1499.3 175,1520.6 175.5,1509.6 176,1489.9 176.2,1486 176.2,1486.7 177,1560.1 177.2,1575.9 177.8,1594.9 178.2,1605 178.8,1610.9 179.2,1614.6 180,1618 180.3,1618.8 183,1600.5 183.5,1597.9 184,1593.1 184.5,1582.9 185.2,1554.6 185.4,1552.7 185.5,1553.2 186.5,1573.8 187,1578.3 187.5,1580.6 188,1576.4 188.2,1573.2 189.2,1550.5 189.5,1548 189.8,1551.4 190.8,1582.3 191,1586.7 191.5,1592.4 192,1595.6 192.5,1597.7 193.2,1599.6 194,1600.8 195.2,1611.4 196.5,1619.1 197.2,1621.8 199.2,1626.8 200,1628.2 201,1629.7 202.5,1631.2 204,1632.5 205.8,1633.3 210,1634.4 213,1634.1 216,1634.9 222,1635.1 226.2,1635 228,1634.7 230,1634 230.5,1632.9 231.2,1630.2 231.8,1627 232.2,1621.7 232.5,1617.6 233,1603.1 233.5,1567.8 233.8,1528.5 234,1450.8 234.5,1063.3 235,1449.6 235.2,1526.9 235.5,1566.1 235.8,1588 236,1601.2 236.5,1615.5 237,1622.6 237.5,1626.4 238.2,1629.6 239,1631.2 240,1631.7 242,1633.7 242.8,1634.3 243.2,1634.6 244,1634.7 246,1634.7 249,1635.2 252,1635 255,1634.4 258,1634.6 261,1634.9 264,1634.2 267,1634.8 270,1634.4 276,1634.3 279,1635.2 282,1634.5 288,1634.8 291,1635.4 294,1634.5 297,1634.9 300,1635 303,1635.4 309,1635.4 312,1634.7 315,1634.9 318,1634.8 321,1635.5 324,1635.5 325.8,1635 327,1634.4 328.8,1634 330.5,1633.3 331.2,1633 332,1632.3 333,1630.8 334,1628.7 335,1626.1 336.2,1622.3 337.2,1617.9 338,1613.4 338.8,1607.7 339.5,1600.9 341,1575.6 342,1564.3 342.5,1559.8 343,1556.5 343.8,1535.5 344.2,1511.2 344.8,1470.5 345.2,1399.4 345.8,1297.3 346,1273.4 346.2,1295.5 346.8,1390.1 347.2,1455.9 347.8,1493.5 348.2,1516 348.4,1521 348.8,1511.6 349.5,1478.4 350,1438.6 350.8,1347.4 351,1334.4 351.2,1351 352,1466.6 352.5,1517.1 353.2,1559.2 353.8,1575.3 354.5,1590.5 358,1613.4 359,1613.4 359.8,1613.3 360,1613.1 360.5,1612.5 361,1611.1 361.8,1606.1 361.9,1605.6 362.8,1613.6 363,1615 363.5,1616.4 364,1617.1 364.5,1617.4 366.5,1623.9 367.2,1625.8 367.8,1626.6 368.2,1627.1 369.5,1627.3 372,1627.5 374,1627.3 375,1627.6 376.2,1629 378,1631.4 379.2,1632.7 380.2,1633.6 381.2,1634.4 382.5,1634.9 383.5,1634.9 384.2,1634.7 385.2,1634.4 386.5,1633.7 387.5,1633 389,1631.5 389.8,1630.4 390.5,1628.8 391.2,1626.8 393.5,1619.5 394.8,1614.3 396.5,1605.7 397.2,1605.1 397.8,1604.3 398.5,1602.4 399,1600 399.2,1598.1 399.8,1592 400.8,1568.3 401,1565.6 401.2,1567.9 402.2,1589.5 402.8,1595 403.5,1599.1 404.2,1601 404.5,1601.4 405.2,1600 406,1597.2 406.5,1593.5 406.8,1590.7 407.2,1581.8 407.8,1569.3 408.1,1564.8 408.2,1565.8 408.5,1571 409.2,1589.8 409.5,1593.7 410,1598.7 410.5,1601.6 411,1603.3 411.8,1604.8 412.5,1605.7 414,1614.3 415,1618.8 415.7,1621 416.8,1623.6 418,1626.1 419.2,1628.1 421,1629.9 423,1631.7 424.8,1632.8 426.5,1633.7 427.5,1634.1 429,1634.5 432,1634.5 435,1635.8 438,1635.6 441,1635.1 444,1634.9 450,1634.3 453,1633.8 456,1634.4 459,1634.3 462,1633.5 465,1633.5 468,1633 471,1633 474,1633.3 477,1633.2 480,1633.9 483,1633.1 486,1632.9 489,1634 491.5,1633.5 495,1632.5 498,1632.4 499,1632 499.5,1631.6 500,1631 500.5,1629.8 501,1627.1 501.5,1622.3 501.7,1621.4 502.8,1625.9 503.2,1626.7 504,1627.3 505,1627.7 505.8,1627.5 506.2,1627.2 507,1626.2 507.5,1624.8 508,1622 508.5,1615.9 509.5,1585.3 509.8,1590 510.2,1606.1 510.8,1613.9 511,1615.9 511.5,1618.2 512,1619.3 512.5,1620 513,1620.3 513.5,1620.5 514.5,1620.1 515.2,1619.6 516.2,1618.4 516.8,1617.2 517,1616.2 517.5,1612.5 517.8,1609 518.6,1589.1 518.8,1590.5 519.5,1607.5 519.8,1610.3 520.2,1613.3 520.8,1614.6 521.2,1615.3 522,1615.9 524.5,1620.7 525,1621.5 525.8,1622.4 527,1623.6 529.5,1625.5 531,1626.6 534,1627.5 537,1628.6 540,1630.3 543,1631.5 547.5,1632.6 552,1634.1 555,1634.9 558,1634.8 559.5,1635 560.2,1634.8 561,1634.3 562.2,1632.9 564,1630.5 565.2,1628.4 566.2,1626.3 567.5,1623.2 568.5,1620.4 569.5,1617 570.2,1613.9 571,1610.1 571.8,1605.4 572.5,1599.6 572.8,1596.3 573.2,1585.1 573.5,1608.4 574.2,1572.8 574.5,1564.2 574.8,1559.4 575.8,1581.6 576,1582.7 577,1557.9 577.2,1559.2 578.2,1584.4 578.5,1580.6 579.5,1555.8 580.2,1573.7 580.5,1577.6 580.8,1578.3 581.2,1560.4 581.8,1547 582,1545.7 583,1570.5 583.2,1569.2 584.2,1544 584.5,1547.7 585.5,1572.7 586.5,1547.9 586.8,1544.2 587.8,1569.4 588,1570.7 589,1545.7 589.2,1548.2 590.2,1587.6 590.5,1585.1 591.5,1560.1 592.5,1585.1 592.8,1588.8 593.8,1563.8 594,1562.5 595,1587.3 595.2,1587 595.8,1581.2 596.2,1578.6 596.5,1587.4 596.8,1587 598.5,1607.3 599.2,1613.8 599.8,1616.9 600.5,1619.8 601.2,1622.2 602,1624.1 603,1626.2 603.8,1627.3 604.5,1628.2 605.8,1629.2 607.5,1630.3 615,1634.2 617.8,1635.1 619,1635.3 621.8,1635.1 623,1634.7 624,1634 624.8,1633.3 626,1631.8 626.2,1631.3 627,1627.9 628.5,1616.2 629,1615.3 629.5,1613.9 630,1610.9 630.5,1604.2 631,1591.5 631.2,1589.1 632,1603.1 632.2,1606 632.8,1609 633.2,1610.5 634,1611.5 634.8,1609.8 635.2,1607.8 635.5,1606.2 636,1600.9 636.2,1596.4 636.8,1580.6 637.2,1559.1 637.4,1557 637.8,1567.3 638.2,1590.3 638.5,1597.8 639,1606.6 639.5,1610.9 640.2,1614.1 641,1615.6 641.8,1614.5 642.5,1612.4 643,1609.7 643.5,1604.7 643.8,1600.6 644.2,1586.1 644.8,1562.6 645,1557 645.2,1562.2 646,1592.2 646.5,1601.5 646.8,1604.2 647.2,1607.5 647.8,1609.3 648.5,1610.9 649.8,1611.4 650.5,1611.8 651.2,1612.5 651.8,1613.5 652,1614.5 652.8,1619.3 653,1619.9 653.5,1623.2 653.8,1624.3 654.2,1625.4 655,1626.2 656,1626.7 657.8,1628 660.2,1630.3 662.5,1633.1 663.5,1634.1 664,1634.4 666,1634.9 669,1636 672,1635.8 675,1635.1 678,1635.1 681,1635.1 684,1636 687,1635.9 690,1635.1 693,1635.9 696,1636.1 702,1635.3 705,1635.6 708,1635.1 711,1634.9 714,1636.1 717,1635.7 720,1635.5 723,1636 726,1635.4 729,1635.9 732,1635.9 735,1635.2 741,1635.3 744,1635.2 747,1635.6 750,1635.2 752,1635.3 752.5,1635.3 753,1635 753.5,1634.4 756,1631.1 757,1628.5 757.8,1625.3 758.2,1622.1 758.8,1617.6 759.2,1610.9 760,1593.8 760.5,1573.9 761.5,1498.8 761.8,1486.6 762,1491.8 763,1562 763.5,1582.2 764.2,1599.3 764.8,1606 765.5,1612.4 766,1615.2 766.5,1617.3 767,1616.4 767.5,1615 768.2,1611.8 768.8,1608.3 769.5,1598.5 770,1585.6 770.2,1575.7 771.2,1506.8 771.5,1499.2 771.8,1506.9 772.5,1563.8 773,1587.8 773.5,1601 774.2,1611.1 774.8,1614.9 775.5,1618.4 776.2,1620.5 777,1621.9 778.8,1626.1 780.5,1629.5 781.5,1631 783.2,1632.8 784.8,1633.9 785.8,1634.4 786.5,1634.4 787,1634.1 787.8,1632.9 788.5,1630.9 790,1626.1 790.8,1625.2 791.2,1624.2 791.8,1622.2 792.2,1618.2 792.8,1609 793.5,1573.3 793.7,1568.1 794.5,1576.3 795,1579 795.5,1580.1 795.8,1574.5 796.2,1557.8 796.5,1545.2 797.2,1492.6 797.4,1489.2 797.8,1500.8 798.2,1527.9 798.8,1545.2 799.2,1555.2 800,1563.5 800.5,1566.7 800.8,1565.5 801.5,1559.4 802,1552.2 802.5,1540 803.2,1505.3 803.6,1494.4 803.8,1497.9 804.8,1566.4 805.5,1589.9 806.2,1601 806.8,1605.3 807.2,1608.3 808,1611.2 810,1620.8 811,1624.3 811.8,1626.2 813.2,1628.4 814.8,1630 817,1631.8 818.8,1632.9 820,1633.5 823.2,1634.9 825,1635.5 826.5,1635.3 828,1635 831,1635.6 834,1635.2 837,1635.2 840,1635.8 843,1635.3 846,1635.1 852,1635.5 855,1634.9 858,1635.1 864,1635 867,1635.3 870,1635 958,1635.4 958.2,1635.7 960,1636 963,1635.9 966,1635.1 969,1635.4 972,1635.5 978,1635.1 981,1635.3 984,1635.8 987,1634.9 990,1635.6 993,1635.3 996,1634.6 1000,1634.4 1001,1634.1 1002,1633.5 1004,1631.6 1007.4,1616.6 1008.6,1584.7 1009.6,1548.1 1011.5,1520.5 1012.3,1440.5 1013.6,1400.4 1014.4,1353.3 1015.9,1411.5 1017.5,1373.4 1018.6,1440 1019.4,1529.7 1020.7,1567.6 1022.1,1591.7 1024.2,1611.6 1027.2,1624.3 1029,1627.8 1030.5,1629.3 1031.4,1629.8 1033.8,1630.6 1035,1631.2 1039,1634.1 1040,1634.7 1040.8,1634.9 1042,1634.9 1044,1634.5 1047,1633.2 1050,1632.1 1053,1632.1 1054.8,1631.8 1056,1632 1059,1634 1060.5,1634.5 1061.5,1634.6 1065,1634.2 1068,1634.4 1070.5,1634 1073.8,1634 1074,1634 1077,1635.7 1077.5,1635.7 1080,1635.7 1083,1635.9 1086,1635 1089,1635.9 1092,1635 1095,1635.9 1098,1635.4 1101,1635.3 1104,1635.6 1107,1636 1110,1635.2 1113,1635.1 1116,1635.5 1119,1635.2 1122,1635 1125,1635.1 1127,1635 1127.5,1634.8 1128,1634.3 1130,1631.1 1130.8,1630.6 1131.2,1629.8 1131.8,1628 1132.6,1621.5 1132.8,1621.8 1133.2,1624.6 1133.8,1626.2 1134.2,1626.9 1135,1627.3 1136,1626.8 1136.5,1626.3 1137,1624.9 1137.5,1622.4 1137.7,1621.9 1138.5,1628.7 1138.8,1630.1 1139.2,1631.6 1140,1632.6 1141,1633 1144,1635.1 1145,1635.4 1146,1635.5 1149,1635.1 1152,1635.3 1155,1634.9 1158,1635.2 1161,1634.9 1164,1635.8 1167,1635.5 1170,1635.1 1173,1635.4 1176,1635.9 1179,1634.9 1180.8,1635.4 1182,1635.6 1185,1634.3 1188,1633.2 1191,1632.5 1194,1630.4 1194.5,1630.2 1196.8,1629.3 1198.2,1629 1200.2,1629.2 1203,1630.1 1206,1630.2 1209,1631.7 1212.8,1633 1214.8,1633.6 1216,1633.6 1217.5,1633.3 1219.8,1632.4 1221.5,1631.5 1223,1630.4 1224.5,1628.6 1225.5,1627.2 1228,1623 1229.5,1622.3 1230.5,1621.5 1231,1621 1231.8,1619.8 1233,1616.9 1233.2,1616.5 1233.5,1616.3 1233.8,1616.4 1234,1616.7 1235.8,1620.3 1236.5,1621.2 1237,1621.7 1238,1622.3 1239,1622.6 1242,1623 1245,1626.3 1248,1628.4 1249.5,1629.2 1251,1629.8 1254,1630.4 1258.8,1631.9 1263,1633 1266,1632.9 1267.5,1633 1269,1633 1272,1632 1275,1631.6 1278,1630.1 1281.5,1627.5 1284,1625.1 1285.5,1623.9 1287,1622.6 1289,1619.4 1290.8,1616.2 1292.5,1612.5 1294,1608.8 1294.8,1607.8 1295.2,1606.8 1296.2,1604.3 1297.8,1599.2 1298.2,1598.3 1298.5,1598.3 1299,1599 1300.5,1603 1301.5,1604.9 1302.5,1606.1 1304,1607.1 1305,1609.7 1306,1611.9 1306.8,1613.3 1307.5,1614.4 1309.8,1616.7 1310.8,1617.5 1311.2,1617.8 1312.2,1618 1313.2,1617.9 1313.8,1617.7 1314.8,1616.9 1315.5,1615.9 1316.2,1614.7 1317.8,1611.6 1319.8,1606.8 1321.8,1600.9 1322,1608 1323,1597.1 1323.2,1596.4 1324,1598.6 1324.2,1598.6 1325.2,1589.5 1325.5,1590.1 1326.2,1594 1326.5,1593.7 1327.5,1583.1 1328,1584.4 1328.5,1585.2 1328.8,1583.3 1329.8,1570.8 1330.2,1572.8 1330.8,1576.4 1331.8,1573.1 1332,1573.8 1333,1585 1334,1580.5 1334.2,1581.4 1335,1588.1 1335.2,1589.6 1336.2,1583.5 1336.5,1584.8 1337.2,1593.1 1337.5,1594.3 1338.5,1590.6 1339.5,1601.2 1339.8,1601.6 1340,1600.6 1340.2,1596.3 1344,1607.6 1348.2,1618.5 1350.8,1624.1 1352,1626.4 1353,1628 1356.8,1632 1357.8,1632.9 1358.5,1633.4 1359.8,1634.1 1361.2,1634.6 1362,1634.9 1365,1634.1 1368,1635 1371,1635 1374,1634.4 1377,1635.4 1380,1635.5 1383,1635.1 1389,1635.3 1392,1634.5 1395,1634.9 1398,1634.9 1401,1635.2 1407,1635.1 1410,1634.8 1413,1635.1 1416,1634.7 1419,1634.6 1422,1633.8 1425,1633.1 1431,1632.5 1434,1631.7 1437,1632.1 1440,1631.5 1444.2,1630.9 1447.5,1630.1 1448.2,1629.9 1448.8,1629.6 1450,1628.3 1452,1625.5 1453.2,1624.7 1454,1624 1454.5,1623.2 1455.2,1621.5 1456.5,1616.5 1456.8,1616.1 1457,1616.3 1457.2,1617 1458.2,1620.3 1458.8,1621.3 1459.2,1621.9 1460,1622.4 1461,1622.7 1462,1622.3 1463.5,1622 1464.2,1621.9 1465,1622.3 1465.5,1622.7 1466.2,1623.8 1469,1628.8 1469.8,1629.9 1470.2,1630.4 1471,1630.6 1473,1630 1474.5,1630 1476,1629.8 1478,1628.4 1478.8,1627.5 1480,1624.8 1482,1618.9 1483,1618.4 1483.8,1617.8 1484.2,1617.2 1484.8,1616.2 1485.5,1613.7 1486.8,1605.1 1487,1604.2 1487.1,1604.1 1487.2,1604.4 1487.5,1606 1488.5,1615.5 1489,1618.5 1489.5,1620.3 1490.2,1621.9 1491.5,1623.2 1493.2,1626.5 1494.5,1628.5 1495.2,1629.3 1496,1629.9 1496.5,1630.2 1497.1,1630.4 1498.5,1630 1501.2,1629.1 1503.2,1628.2 1503.8,1627.7 1504.2,1626.9 1506.2,1623.1 1506.8,1622.5 1507.2,1622.1 1512,1621.9 1518,1621.4 1521,1620.2 1523.8,1619.7 1526.6,1618.8 1527.8,1618.3 1529,1617.3 1530,1616.3 1530.8,1615 1534.2,1608.5 1536,1604.1 1538,1597.5 1539.8,1596.1 1540.5,1595.1 1541,1594.2 1542,1591.4 1543.2,1585.9 1543.5,1585.1 1543.8,1584.6 1543.9,1584.5 1544.2,1585.3 1544.5,1586.7 1546,1598.1 1547,1602.7 1548,1605.4 1548.8,1606.5 1549.5,1607.3 1551,1611.7 1552.2,1614.6 1553.2,1616.4 1554,1617.4 1554.8,1618 1555.5,1618.2 1556.2,1618.2 1557.5,1617.6 1558.2,1617 1559.2,1615.9 1560.5,1614 1562,1611.1 1562.5,1609.8 1563,1608 1563.8,1604.3 1564.8,1598.1 1567,1580.3 1567.8,1579.5 1568.5,1578 1569,1576.5 1569.5,1574.3 1570,1570.3 1570.5,1563 1571.2,1543.5 1571.6,1538.5 1571.8,1539.2 1572,1542.6 1572.8,1554.2 1573.2,1558.4 1573.7,1560.5 1573.8,1560.2 1574.2,1556.7 1574.8,1550.5 1575.5,1533.9 1575.8,1529.4 1575.9,1528.5 1576.2,1534.7 1577,1558.9 1577.2,1564.1 1577.8,1571 1578,1581.2 1578.2,1581 1578.5,1580.5 1579,1578.6 1579.2,1579.6 1579.5,1582 1580,1584.8 1580.2,1585.2 1581,1575.7 1581.1,1574.7 1581.2,1574.8 1582,1594.3 1582.2,1598.5 1582.5,1600.3 1583,1598.3 1583.5,1595.4 1584.5,1602.1 1584.8,1601.4 1585.5,1594.6 1585.8,1595.4 1586.2,1605.4 1586.8,1612.2 1587,1612 1587.8,1607.8 1588,1607.6 1589,1615.2 1590,1607.1 1590.2,1606.8 1590.6,1608.9 1590.8,1610.5 1591.2,1618.3 1591.5,1618.2 1591.8,1617.5 1592.2,1615.1 1593.2,1622.4 1593.5,1622.9 1594.5,1616.5 1595.5,1625.6 1595.8,1625.7 1596.5,1621.6 1596.8,1621 1597.8,1630.2 1598,1629.6 1598.2,1623.6 1600.5,1629.1 1601.5,1631 1602.5,1632.1 1603.8,1632.5 1605,1632.8 1608,1631.3 1611,1630.9 1612.5,1630.2 1614,1629.2 1618,1627.3 1619.8,1626.7 1620,1631.6 1621,1625.9 1622,1630.4 1623,1624.9 1624,1630 1625,1625.2 1626,1630.4 1627,1625.2 1628,1630 1629,1624.8 1630,1629.8 1631,1624.9 1632,1630 1633,1624.8 1634,1629.6 1635,1624.4 1636,1629.2 1637,1623.9 1638,1628.6 1639,1623.8 1640,1628.9 1641,1624.1 1642,1628.8 1643,1623.3 1643.5,1624.9 1643.8,1625.5 1644,1625.7 1644.2,1619.2 1645,1609.5 1645.2,1608.1 1646,1614.3 1646.2,1615.6 1646.8,1616.8 1647.5,1617.6 1647.8,1617.8 1648.5,1617.3 1649,1616.7 1649.2,1616.1 1649.8,1613.8 1650.2,1609.9 1650.4,1609.5 1651.2,1614.5 1651.8,1615.9 1652.2,1616.6 1653,1617.2 1653.5,1617.3 1654.5,1617.1 1655,1616.8 1655.5,1616.3 1655.8,1615.7 1656.2,1613.9 1656.5,1613.4 1657.5,1616.4 1657.8,1616.7 1658.3,1617.1 1659,1616.3 1660,1613.2 1660.8,1614.3 1661,1614.6 1661.5,1614.8 1661.7,1614.9 1662,1613.9 1662.5,1610.8 1663.2,1599.4 1663.4,1598.5 1664.2,1607.3 1664.8,1609.8 1665.3,1611 1665.8,1607.2 1666,1603.8 1666.5,1590.5 1667.2,1542 1667.4,1538 1668.2,1590.9 1668.5,1600.2 1669,1610.1 1669.2,1612.8 1669.8,1616.2 1670.2,1618.1 1670.8,1619.3 1674,1624.9 1674.8,1624.8 1675.2,1624.5 1675.8,1623.9 1676,1623.3 1676.5,1621.2 1677,1617.9 1677.2,1617.4 1678.2,1625.2 1678.5,1626.3 1679,1627.6 1679.8,1628.5 1680,1628.7 1680.5,1628.8 1681.8,1629.8 1683,1630.6 1684.2,1631.9 1685.2,1632.6 1686,1632.9 1687,1632.8 1689.8,1632.3 1690.8,1632 1691.2,1631.8 1691.8,1631.3 1692,1631 1692.5,1629.8 1693,1627.2 1693.2,1624.8 1693.5,1620.8 1694,1607 1694.2,1603.9 1695,1622.2 1695.2,1625.4 1695.5,1627.4 1696,1629.4 1696.5,1630.4 1697,1631 1697.5,1631.3 1701,1632.6 1702.5,1633.4 1704,1634 1707,1633.6 1710,1633.3 1713,1633.4 1719,1632.8 1722,1632.8 1723,1632.9 1723.8,1632.9 1725,1632.6 1727.5,1630.4 1728.2,1628.8 1728.8,1626.8 1729.2,1622.7 1729.5,1618.8 1730,1601.9 1730.6,1569.4 1730.8,1573.3 1731.2,1603.4 1731.8,1618.2 1732,1621.6 1732.5,1625.3 1733,1627 1733.5,1627.9 1734,1627.8 1737,1627.8 1740,1628.1 1743,1627.7 1746,1627.9 1748,1628.4 1748.5,1628.4 1749.2,1628.1 1751.5,1626.2 1752,1625.9 1752.6,1625.7 1753,1625.8 1753.5,1626.1 1755.8,1628.2 1756.2,1628.5 1756.8,1628.7 1757.2,1628.7 1757.8,1628.5 1758.8,1627.8 1760.5,1626.4 1761.8,1625.8 1762.2,1625.8 1762.8,1626.1 1764.8,1627.8 1765.2,1628.1 1765.8,1628.2 1767,1628 1770,1628.1 1773,1626.8 1774.2,1626.9 1774.8,1626.8 1776,1626.1 1779,1622.4 1781.8,1620.2 1782,1623 1783,1619.1 1783.2,1618.9 1784,1619.7 1784.2,1619.7 1785.2,1615.1 1785.5,1615.1 1786.2,1615.8 1786.5,1615.5 1787.5,1611.5 1788.6,1613.8 1789.5,1611.7 1789.8,1611.4 1790.8,1614.9 1791,1614.7 1791.8,1613.3 1792,1613.3 1792.5,1614.5 1793,1615.3 1794,1610.8 1794.2,1610.4 1795.2,1611 1796.2,1608 1796.5,1608.4 1797.2,1610.5 1797.5,1610.8 1798.5,1608.7 1799.5,1612.2 1799.8,1612.2 1800.5,1610.8 1800.8,1610.5 1801.8,1614 1802,1613.9 1802.8,1613.2 1803,1613.6 1804,1618.5 1804.5,1618 1805,1617.2 1805.2,1617.5 1806,1619.2 1806.2,1619.4 1807.2,1615.1 1807.5,1615.1 1808.2,1615.9 1808.5,1615.7 1809.5,1612.4 1810.5,1616.2 1810.8,1616.4 1811.5,1615.6 1811.8,1615.6 1812.8,1619.1 1813.8,1615.7 1814,1615.2 1814.5,1615.6 1815,1615.9 1816,1610.9 1816.2,1610.4 1817,1610.5 1817.2,1610.2 1818.2,1604.8 1818.5,1604.6 1819.2,1604.8 1819.5,1604.3 1820.5,1599.2 1821.5,1599.5 1821.8,1598.7 1822.8,1593.6 1823.8,1593.1 1825,1585.5 1826,1583.7 1826.2,1579.5 1828,1570.3 1829.2,1565.6 1830.2,1560.1 1831.2,1552.5 1833.2,1533.6 1833.8,1530.9 1834.1,1530.3 1834.2,1530.4 1834.5,1531.1 1835,1534 1837,1553.6 1837.8,1559.8 1839,1567.2 1840,1570.8 1841.8,1581.3 1842,1585.7 1843,1588.2 1844.2,1596 1844.8,1596.3 1845.2,1596.3 1846.2,1601.7 1846.5,1602.5 1847.5,1602.5 1848.5,1607.6 1848.8,1608 1849.5,1607.4 1849.8,1607.4 1850.8,1611.5 1851,1611.4 1851.8,1609.7 1852,1609.6 1853,1612.1 1854,1607.6 1854.2,1607.2 1855,1607.2 1855.2,1606.9 1856.2,1601.5 1856.5,1601.3 1857,1601.8 1857.2,1602.1 1857.5,1602.1 1858.5,1599.5 1859.5,1603 1859.8,1603.1 1860.5,1601.7 1860.8,1601.4 1861.8,1604.3 1862,1603.9 1862.8,1601.6 1863,1601.4 1864,1603.8 1865,1600.9 1865.2,1601.1 1866.2,1604.1 1867.2,1602.7 1868.2,1606.9 1868.5,1607.5 1869.5,1606.6 1870.5,1611.4 1870.8,1611.8 1871.5,1611.6 1871.8,1611.8 1872.8,1616.7 1873,1616.8 1873.8,1615.7 1874,1615.7 1875,1618.4 1876,1615.5 1876.2,1615.6 1877,1617.4 1877.2,1617.8 1878.2,1614.7 1878.5,1615 1879.2,1616.8 1879.5,1616.9 1880.5,1614 1881.5,1616.5 1881.8,1616.3 1882.5,1614.1 1882.8,1613.6 1883.8,1616.1 1884,1615.6 1884.8,1613.3 1885,1613.1 1886,1615.4 1887,1612.3 1887.2,1612.3 1888,1614 1888.2,1614.2 1889.2,1610.8 1889.5,1611 1890.2,1612.4 1890.5,1612.3 1891.5,1608.6 1892.5,1610.3 1892.8,1609.9 1893.8,1606.3 1894.8,1607.5 1895.8,1603.5 1896,1603 1897,1604.6 1898,1600.9 1898.2,1600.8 1899,1602.2 1899.2,1602.3 1900.2,1598.7 1901,1598.1 1901.5,1597.6 1902,1596.7 1902.5,1595.4 1903,1593 1904,1584 1904.2,1583.4 1904.5,1585.4 1905.2,1595.7 1905.8,1599.9 1906.5,1603.1 1907,1604.2 1907.8,1605.3 1908,1605.6 1909,1604.7 1909.8,1603.6 1910.2,1602.3 1910.8,1600.2 1911.8,1592.4 1912,1591.6 1912.2,1592.6 1913.2,1601.9 1913.8,1604.3 1914.5,1606.1 1915,1606.7 1915.5,1607.1 1917.5,1611.2 1918,1612 1918.8,1612.9 1920,1614 1921.2,1614.5 1923,1614.9 1924.8,1615.9 1926.2,1617 1927.2,1618.3 1929.8,1622.3 1930.5,1623.2 1931,1623.5 1931.8,1623.6 1932.8,1623.4 1935.2,1622.2 1935.8,1621.8 1937.5,1619.4 1938,1619 1938.4,1618.9 1938.8,1619.1 1939,1619.4 1940.2,1622.4 1940.8,1623.2 1941.2,1623.2 1942,1623 1943,1622.2 1944,1621.1 1946.2,1616.7 1947.2,1613.9 1948.2,1610.2 1950.5,1599.5 1951.8,1599.1 1952.5,1598.5 1953,1597.7 1953.2,1597.1 1953.8,1595.1 1954.2,1591.3 1954.8,1583.5 1955.5,1560 1955.7,1557.4 1956,1562.4 1956.8,1582.4 1957,1586 1957.5,1590 1958,1592.1 1958.5,1593.2 1959.2,1594.2 1960,1594.8 1962,1601.3 1963.2,1604.3 1964.2,1606.2 1966.2,1609.4 1974.8,1621.3 1978.5,1626.1 1979.2,1627 1980,1627.5 1980.8,1627.5 1983,1626.9 1987.8,1626.7 1990,1626.1 1992,1625.4 1996.2,1623.6 1998,1622.6 1999.5,1621.1 2000.8,1619.4 2001,1623.8 2002,1615.2 2002.2,1614.1 2003,1613.4 2003.2,1613.6 2003.8,1609.3 2004.2,1603 2004.5,1602.5 2005.2,1609.5 2005.5,1610.6 2006,1609.2 2006.5,1607.4 2007,1609.1 2007.5,1610.2 2007.8,1609 2008,1606.4 2008.8,1593.5 2009,1592.4 2009.8,1602 2010,1602.7 2010.2,1602.5 2010.8,1601.3 2011,1601.4 2012,1605.3 2013,1597.9 2013.2,1597.5 2014,1602.2 2014.2,1603 2015.2,1598.7 2016.2,1601.6 2016.5,1601.1 2017,1595.8 2017.5,1587.7 2017.7,1587.6 2018.5,1592.7 2018.8,1592.8 2019.5,1589.8 2019.8,1588 2020,1587.8 2020.8,1578.8 2021.2,1567.2 2022.2,1519.2 2022.3,1518.9 2022.5,1521.2 2023,1535.3 2023.5,1544.8 2024,1549.5 2024.5,1551.9 2025,1548.5 2025.5,1541.7 2026,1527.4 2026.5,1506 2026.7,1502.5 2027,1508.6 2027.8,1532.9 2028.2,1540.2 2028.3,1540.6 2028.8,1537.5 2029.6,1526 2029.8,1528.2 2030.5,1554.8 2031,1562.1 2031.5,1565.2 2032.2,1578.4 2033,1587.9 2033.8,1594.3 2034.5,1598.3 2035,1599.7 2035.5,1600.4 2035.8,1600.6 2036,1600.3 2036.2,1599.5 2036.8,1596 2037.2,1590.5 2038.5,1570.4 2039.2,1566.6 2040,1560.1 2040.5,1553 2041,1542.1 2041.5,1524.4 2042,1493.9 2042.8,1412.6 2043,1399 2043.2,1414.1 2044,1504.5 2044.5,1538.4 2045,1516.1 2045.2,1499.3 2046,1418.1 2046.3,1399 2046.5,1408.2 2047.2,1491.7 2047.8,1524.7 2048.5,1550.3 2049,1559.6 2049.5,1565.9 2050,1570.2 2050.5,1573.3 2051.2,1572.3 2052,1570.3 2052.5,1567.8 2053,1563.3 2053.5,1554.3 2053.8,1546.5 2054.5,1507.3 2054.7,1502.8 2055,1511.3 2055.8,1545.1 2056,1551.1 2056.5,1558.1 2056.8,1560.5 2057.2,1558.1 2057.5,1556 2058,1548.7 2058.5,1537.7 2058.7,1535.9 2058.8,1536.1 2059.5,1561.5 2059.8,1568.1 2060.2,1575.2 2060.5,1573.6 2061,1568.5 2061.3,1566.4 2061.5,1570.1 2062,1589.5 2062.5,1599.7 2063,1604 2063.5,1606.1 2065.2,1619.9 2066,1623.8 2066.5,1625 2068.8,1627.9 2070,1628.9 2071,1629.4 2076,1630.8 2079,1630.7 2080.3,1631 2087.2,1633.3 2091,1634.2 2094,1635.5 2097,1635.5 2103,1634.9 2106,1635.5 2109,1635.7 2115,1635.2 2118,1635.7 2121,1636 2124,1635.2 2127,1634.9 2130,1635.3 2133,1635.4 2136,1635.7 2139,1635.1 2142,1635.9 2145,1635.8 2151,1635.1 2154,1636.1 2157,1635.3 2160,1635.9 2163,1635.2 2164.8,1635.2 2165,1635.5 2180,1635.5"/></defs>
<g fill="none" stroke="#0000ff" stroke-linejoin="round" stroke-linecap="butt" shape-rendering="crispEdges"><use href="#specA" stroke-width="2"/><use href="#specA" stroke-width="5"/></g>
<g fill="none" stroke="#ff0000" stroke-linejoin="round" stroke-linecap="butt" shape-rendering="crispEdges"><use href="#specB" stroke-width="2"/><use href="#specB" stroke-width="5"/></g>
<line x1="1300.5" y1="953.5" x2="1300.5" y2="1592" stroke="#000" stroke-width="3" stroke-dasharray="11 9.35" shape-rendering="crispEdges"/>
<line x1="1544.4" y1="961.5" x2="1544.4" y2="1599.7" stroke="#000" stroke-width="3" stroke-dasharray="11 9.35" shape-rendering="crispEdges"/>
<g fill="#000" shape-rendering="crispEdges">
<rect x="26" y="1739" width="2157" height="7"/>
<rect x="26" y="1739" width="7" height="36"/>
<rect x="170" y="1739" width="7" height="20"/>
<rect x="313" y="1739" width="7" height="36"/>
<rect x="456" y="1739" width="7" height="20"/>
<rect x="599" y="1739" width="7" height="36"/>
<rect x="743" y="1739" width="7" height="20"/>
<rect x="886" y="1739" width="7" height="36"/>
<rect x="1029" y="1739" width="7" height="20"/>
<rect x="1173" y="1739" width="7" height="36"/>
<rect x="1316" y="1739" width="7" height="20"/>
<rect x="1459" y="1739" width="7" height="36"/>
<rect x="1602" y="1739" width="7" height="20"/>
<rect x="1746" y="1739" width="7" height="36"/>
<rect x="1889" y="1739" width="7" height="20"/>
<rect x="2032" y="1739" width="7" height="36"/>
<rect x="2175" y="1739" width="8" height="20"/>
</g>
<text transform="translate(30.0 1853.8) scale(1 1.012)" font-size="72" text-anchor="middle" stroke="#000" stroke-width="0.45">8</text>
<text transform="translate(316.6 1853.8) scale(1 1.012)" font-size="72" text-anchor="middle" stroke="#000" stroke-width="0.45">7</text>
<text transform="translate(603.1 1853.8) scale(1 1.012)" font-size="72" text-anchor="middle" stroke="#000" stroke-width="0.45">6</text>
<text transform="translate(889.7 1853.8) scale(1 1.012)" font-size="72" text-anchor="middle" stroke="#000" stroke-width="0.45">5</text>
<text transform="translate(1176.2 1853.8) scale(1 1.012)" font-size="72" text-anchor="middle" stroke="#000" stroke-width="0.45">4</text>
<text transform="translate(1462.8 1853.8) scale(1 1.012)" font-size="72" text-anchor="middle" stroke="#000" stroke-width="0.45">3</text>
<text transform="translate(1749.4 1853.8) scale(1 1.012)" font-size="72" text-anchor="middle" stroke="#000" stroke-width="0.45">2</text>
<text transform="translate(2037.4 1853.8) scale(1 1.012)" font-size="72" text-anchor="middle" stroke="#000" stroke-width="0.45">1</text>
<rect x="2020" y="1846" width="14.7" height="10" fill="#fff"/>
<rect x="2042" y="1846" width="14" height="10" fill="#fff"/>
<text x="2010" y="86.5" font-size="86">(a)</text>
<text x="2023.2" y="1148.5" font-size="87">(b)</text>
<text transform="translate(213.7 132.8) scale(1 1.02)" font-size="40" stroke="#000" stroke-width="0.5" stroke-linejoin="round">CDCl</text>
<text transform="translate(309 156.8) scale(1 1.02)" font-size="40" stroke="#000" stroke-width="0.5" stroke-linejoin="round">3</text>
<text transform="translate(99 1368) scale(1 1.04)" font-size="55" stroke="#000" stroke-width="0.5" stroke-linejoin="round">E</text>
<text transform="translate(453.6 1368) scale(1 1.04)" font-size="55" stroke="#000" stroke-width="0.5" stroke-linejoin="round">Z</text>
<text transform="translate(553 1380.8) scale(1 1.04)" font-size="55" stroke="#000" stroke-width="0.5" stroke-linejoin="round">E</text>
<text transform="translate(684.3 1357.1) scale(1 1.04)" font-size="55" stroke="#000" stroke-width="0.5" stroke-linejoin="round">Z</text>
<text transform="translate(1160.7 1419.3) scale(1 1.04)" font-size="55" letter-spacing="1.2" stroke="#000" stroke-width="0.5" stroke-linejoin="round">CBA</text>
<text transform="translate(989.5 1990.5) scale(1.1 1)" font-size="88" class="ser">δ</text>
<text x="1053.2" y="1989.5" font-size="86.5">(ppm)</text>
<line x1="113.9" y1="1383.2" x2="133.2" y2="1542.5" stroke="#000" stroke-width="2.7" shape-rendering="crispEdges"/><polygon points="121.6,1541.9 144.4,1539.2 138.6,1586.8" fill="#000" shape-rendering="crispEdges"/>
<line x1="451.7" y1="1380.3" x2="421.0" y2="1508.4" stroke="#000" stroke-width="2.7" shape-rendering="crispEdges"/><polygon points="410.3,1503.8 432.6,1509.2 410.6,1551.8" fill="#000" shape-rendering="crispEdges"/>
<line x1="563.4" y1="1402.4" x2="533.1" y2="1529.0" stroke="#000" stroke-width="2.7" shape-rendering="crispEdges"/><polygon points="522.4,1524.4 544.7,1529.7 522.7,1572.4" fill="#000" shape-rendering="crispEdges"/>
<line x1="679.2" y1="1367.4" x2="655.3" y2="1475.5" stroke="#000" stroke-width="2.7" shape-rendering="crispEdges"/><polygon points="644.5,1471.0 666.9,1476.0 645.6,1519.0" fill="#000" shape-rendering="crispEdges"/>
<line x1="1253.4" y1="1424.0" x2="1222.1" y2="1551.2" stroke="#000" stroke-width="2.7" shape-rendering="crispEdges"/><polygon points="1211.5,1546.5 1233.7,1552.0 1211.5,1594.5" fill="#000" shape-rendering="crispEdges"/>
<line x1="1253.4" y1="1424.0" x2="1245.8" y2="1571.2" stroke="#000" stroke-width="2.7" shape-rendering="crispEdges"/><polygon points="1234.5,1568.6 1257.3,1569.8 1243.5,1615.7" fill="#000" shape-rendering="crispEdges"/>
</svg></body></html>
